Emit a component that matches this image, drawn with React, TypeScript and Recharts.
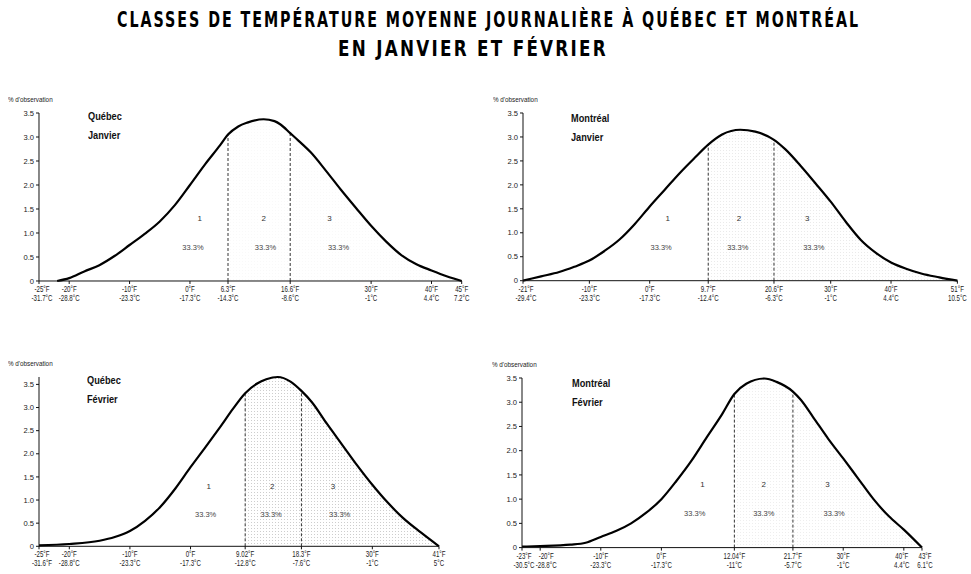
import React from 'react';
import { ComposedChart, Line, Area, XAxis, YAxis, ReferenceLine, ReferenceDot } from 'recharts';

const yTicks = [0, 0.5, 1, 1.5, 2, 2.5, 3, 3.5];
const classNames = ['1', '2', '3'];
const classShares = ['33.3%', '33.3%', '33.3%'];

// Québec - janvier
const qjTemp = [-22, -20, -17.5, -15, -12.5, -10, -7.5, -5, -2.5, 0, 2.5, 5, 6.3, 8, 9.5, 12.2, 14, 15, 16.6, 18, 20, 22.5, 25, 27.5, 30, 32.5, 35, 37.5, 40, 42.5, 45];
const qjPct = [0, 0.06, 0.2, 0.33, 0.52, 0.75, 0.98, 1.24, 1.58, 2.0, 2.43, 2.83, 3.05, 3.22, 3.3, 3.37, 3.33, 3.26, 3.08, 2.92, 2.68, 2.3, 1.9, 1.52, 1.15, 0.82, 0.54, 0.35, 0.22, 0.1, 0];
const qjTicksF = [-25, -20, -10, 0, 6.3, 16.6, 30, 40, 45];
const qjTicksC = ['-31.7°C', '-28.8°C', '-23.3°C', '-17.3°C', '-14.3°C', '-8.6°C', '-1°C', '4.4°C', '7.2°C'];
const qjLimits = [6.3, 16.6];
const qjLimitPct = [3.05, 3.08];
const qjNumX = [1.6, 12.2, 23.1];
const qjShareX = [0.5, 12.5, 24.6];

// Montréal - janvier
const mjTemp = [-21, -18, -15, -12.5, -10, -7.5, -5, -2.5, 0, 2.5, 5, 7.5, 9.7, 12, 15, 17.5, 20.6, 22.5, 25, 27.5, 30, 32.5, 35, 37.5, 40, 42.5, 45, 48, 51];
const mjPct = [0, 0.09, 0.18, 0.29, 0.42, 0.62, 0.86, 1.18, 1.55, 1.9, 2.25, 2.57, 2.84, 3.05, 3.15, 3.11, 2.94, 2.74, 2.4, 2.03, 1.65, 1.23, 0.85, 0.58, 0.38, 0.25, 0.15, 0.07, 0];
const mjTicksF = [-21, -10, 0, 9.7, 20.6, 30, 40, 51];
const mjTicksC = ['-29.4°C', '-23.3°C', '-17.3°C', '-12.4°C', '-6.3°C', '-1°C', '4.4°C', '10.5°C'];
const mjLimits = [9.7, 20.6];
const mjLimitPct = [2.84, 2.94];
const mjNumX = [3.0, 14.8, 26.1];
const mjShareX = [1.9, 14.6, 27.2];

// Québec - février
const qfTemp = [-25, -20, -15, -12.5, -10, -7.5, -5, -2.5, 0, 2.5, 5, 7, 9.02, 11, 12.5, 14.4, 16.5, 18.3, 20, 22.5, 25, 27.5, 30, 32.5, 35, 38, 41];
const qfPct = [0.02, 0.05, 0.12, 0.2, 0.33, 0.55, 0.85, 1.25, 1.71, 2.15, 2.6, 2.97, 3.31, 3.52, 3.61, 3.66, 3.56, 3.36, 3.12, 2.65, 2.2, 1.75, 1.33, 0.95, 0.62, 0.3, 0];
const qfTicksF = [-25, -20, -10, 0, 9.02, 18.3, 30, 41];
const qfTicksC = ['-31.6°F', '-28.8°C', '-23.3°C', '-17.3°C', '-12.8°C', '-7.6°C', '-1°C', '5°C'];
const qfLimits = [9.02, 18.3];
const qfLimitPct = [3.31, 3.36];
const qfNumX = [3.0, 13.5, 23.5];
const qfShareX = [2.5, 13.3, 24.6];

// Montréal - février
const mfTemp = [-23, -20, -15, -12.5, -10, -7.5, -5, -2.5, 0, 2.5, 5, 7.5, 10, 12.04, 14, 17, 19, 21.7, 23, 25, 27.5, 30, 32.5, 35, 37.5, 40, 43];
const mfPct = [0.02, 0.03, 0.06, 0.1, 0.22, 0.34, 0.5, 0.72, 1.0, 1.38, 1.8, 2.28, 2.75, 3.17, 3.38, 3.49, 3.42, 3.22, 3.05, 2.7, 2.25, 1.84, 1.42, 1.0, 0.65, 0.37, 0];
const mfTicksF = [-23, -20, -10, 0, 12.04, 21.7, 30, 40, 43];
const mfTicksC = ['-30.5°C', '-28.8°C', '-23.3°C', '-17.3°C', '-11°C', '-5.7°C', '-1°C', '4.4°C', '6.1°C'];
const mfLimits = [12.04, 21.7];
const mfLimitPct = [3.17, 3.22];
const mfNumX = [6.8, 16.9, 27.4];
const mfShareX = [5.5, 16.9, 28.5];

const sans = "'Liberation Sans', Arial, sans-serif";

// label nudges (px) so crowded ticks don't collide
const nudgeQJ = [3, 0, 0, 0, 0, 0, 0, 0, 0];
const nudgeMJ = [3, 0, 0, 0, 0, 0, 0, 0];
const nudgeQF = [3, 0, 0, 0, 0, 0, 0, 0];
const nudgeMF = [2, 6, 0, 0, 0, 0, 0, -2, 3];

const panels = [
  { city: 'Québec', month: 'Janvier', temp: qjTemp, pct: qjPct, ticksF: qjTicksF, ticksC: qjTicksC, limits: qjLimits, limitPct: qjLimitPct, numX: qjNumX, shareX: qjShareX, shade: 0.05, nudge: nudgeQJ, box: { x: 39, y: 112.7, w: 422.7, h: 168 }, ylab: { x: 8, y: 96 }, name: { x: 88, y: 107 } },
  { city: 'Montréal', month: 'Janvier', temp: mjTemp, pct: mjPct, ticksF: mjTicksF, ticksC: mjTicksC, limits: mjLimits, limitPct: mjLimitPct, numX: mjNumX, shareX: mjShareX, shade: 0.18, nudge: nudgeMJ, box: { x: 523.3, y: 113.3, w: 434.4, h: 167.7 }, ylab: { x: 493, y: 96 }, name: { x: 571, y: 109 } },
  { city: 'Québec', month: 'Février', temp: qfTemp, pct: qfPct, ticksF: qfTicksF, ticksC: qfTicksC, limits: qfLimits, limitPct: qfLimitPct, numX: qfNumX, shareX: qfShareX, shade: 0.42, nudge: nudgeQF, box: { x: 39.3, y: 376.7, w: 400, h: 169.3 }, ylab: { x: 8, y: 360 }, name: { x: 87, y: 371 } },
  { city: 'Montréal', month: 'Février', temp: mfTemp, pct: mfPct, ticksF: mfTicksF, ticksC: mfTicksC, limits: mfLimits, limitPct: mfLimitPct, numX: mfNumX, shareX: mfShareX, shade: 0.14, nudge: nudgeMF, box: { x: 522.3, y: 377.7, w: 400, h: 169.6 }, ylab: { x: 492, y: 361 }, name: { x: 572, y: 374 } },
];

const TwoLineTick = ({ x, y, payload, ticksF, ticksC, nudge }: any) => {
  const i = ticksF.indexOf(payload.value);
  const dx = nudge ? nudge[i] : 0;
  return (
    <g transform={`translate(${x + dx},${y}) scale(0.75,1)`}>
      <text textAnchor="middle" fontFamily={sans} fontSize={8.2} fill="#222">
        <tspan x={0} dy={6}>{`${payload.value}°F`}</tspan>
        <tspan x={0} dy={9}>{ticksC[i]}</tspan>
      </text>
    </g>
  );
};

const Panel = ({ p, idx }: { p: any; idx: number }) => {
  const data = p.temp.map((t: number, i: number) => ({
    t,
    pct: p.pct[i],
    shade: t >= p.limits[0] ? p.pct[i] : null,
  }));
  const ml = 40, mt = 20, mr = 22, xh = 30;
  const width = p.box.w + ml + mr;
  const height = p.box.h + mt + xh;
  const pid = `stip${idx}`;
  return (
    <>
      <div style={{ position: 'absolute', left: p.box.x - ml, top: p.box.y - mt }}>
        <ComposedChart width={width} height={height} data={data} margin={{ top: mt, right: mr, left: 10, bottom: 0 }}>
          <defs>
            <pattern id={pid} width={3} height={3} patternUnits="userSpaceOnUse">
              <rect x={0} y={0} width={1} height={1} fill="#888" />
            </pattern>
          </defs>
          <XAxis
            dataKey="t"
            type="number"
            domain={[p.ticksF[0], p.ticksF[p.ticksF.length - 1]]}
            ticks={p.ticksF}
            interval={0}
            height={xh}
            stroke="#111"
            tickSize={3}
            tick={<TwoLineTick ticksF={p.ticksF} ticksC={p.ticksC} nudge={p.nudge} />}
          />
          <YAxis
            type="number"
            domain={[0, 3.5]}
            ticks={yTicks}
            interval={0}
            width={30}
            stroke="#111"
            tickSize={3}
            tickFormatter={(v: number) => (v === 0 ? '0' : v.toFixed(1))}
            tick={{ fontSize: 7.6, fontFamily: sans, fill: '#222' }}
          />
          <Area
            type="monotone"
            dataKey="shade"
            stroke="none"
            fill={`url(#${pid})`}
            fillOpacity={p.shade}
            connectNulls={false}
            isAnimationActive={false}
          />
          {p.limits.map((lx: number, i: number) => (
            <ReferenceLine
              key={`l${i}`}
              segment={[{ x: lx, y: 0 }, { x: lx, y: p.limitPct[i] }]}
              stroke="#333"
              strokeDasharray="3 2"
            />
          ))}
          {classNames.map((c, i) => (
            <ReferenceDot key={`n${i}`} x={p.numX[i]} y={1.3} r={0} fill="none" stroke="none"
              label={{ value: c, position: 'center', fontSize: 8, fontFamily: sans, fill: '#333' }} />
          ))}
          {classShares.map((c, i) => (
            <ReferenceDot key={`s${i}`} x={p.shareX[i]} y={0.7} r={0} fill="none" stroke="none"
              label={{ value: c, position: 'center', fontSize: 7.5, fontFamily: sans, fill: '#444' }} />
          ))}
          <Line type="monotone" dataKey="pct" stroke="#000" strokeWidth={2.2} dot={false} isAnimationActive={false} />
        </ComposedChart>
      </div>
      <div style={{ position: 'absolute', left: p.ylab.x, top: p.ylab.y, fontFamily: sans, fontSize: 7, color: '#222', whiteSpace: 'nowrap', transform: 'scaleX(0.9)', transformOrigin: 'left' }}>
        % d'observation
      </div>
      <div style={{ position: 'absolute', left: p.name.x, top: p.name.y, fontFamily: sans, fontSize: 10, fontWeight: 'bold', color: '#111', lineHeight: '19px', transform: 'scaleX(0.92)', transformOrigin: 'left' }}>
        <div>{p.city}</div>
        <div>{p.month}</div>
      </div>
    </>
  );
};

const titleSx = 0.72;

export default function App() {
  return (
    <div style={{ position: 'absolute', left: 0, top: 0, width: 971, height: 574, background: '#fff', overflow: 'hidden' }}>
      <svg width={971} height={64} style={{ position: 'absolute', left: 0, top: 0 }}>
        <g transform={`translate(488.5,26.5) scale(${titleSx},1)`}>
          <text x={0} y={0} textAnchor="middle" fontFamily="'DejaVu Sans', sans-serif" fontWeight="bold" fontSize={22} letterSpacing={3} textLength={743 / titleSx} lengthAdjust="spacingAndGlyphs" fill="#000">
            CLASSES DE TEMPÉRATURE MOYENNE JOURNALIÈRE À QUÉBEC ET MONTRÉAL
          </text>
        </g>
        <g transform={`translate(473,55.5) scale(${titleSx},1)`}>
          <text x={0} y={0} textAnchor="middle" fontFamily="'DejaVu Sans', sans-serif" fontWeight="bold" fontSize={22} letterSpacing={3} textLength={270 / titleSx} lengthAdjust="spacingAndGlyphs" fill="#000">
            EN JANVIER ET FÉVRIER
          </text>
        </g>
      </svg>
      {panels.map((p, i) => (
        <Panel key={i} p={p} idx={i} />
      ))}
    </div>
  );
}
